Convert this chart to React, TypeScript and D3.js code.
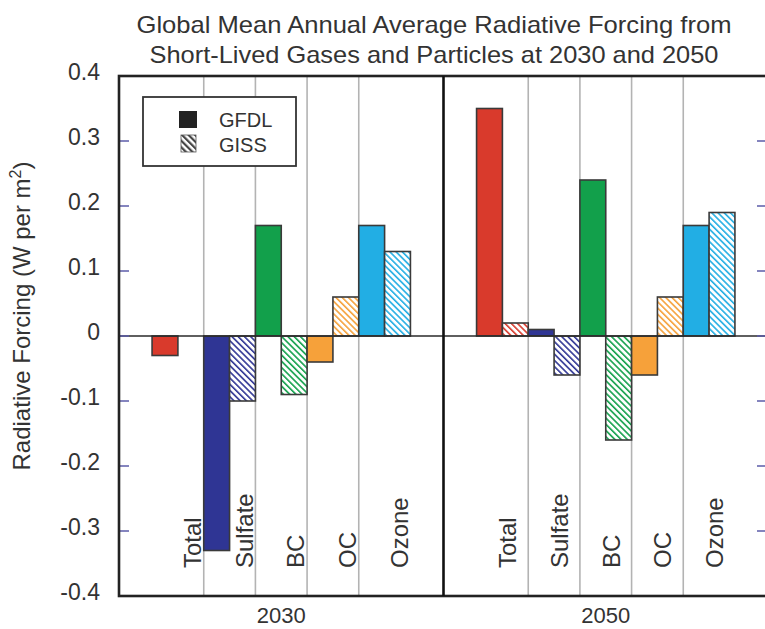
import React from "react";
import * as d3 from "d3";

const categories = ["Total", "Sulfate", "BC", "OC", "Ozone"];
const years = ["2030", "2050"];
const models = ["GFDL", "GISS"];
const gfdl2030: (number | null)[] = [-0.03, -0.33, 0.17, -0.04, 0.17];
const giss2030: (number | null)[] = [null, -0.10, -0.09, 0.06, 0.13];
const gfdl2050: (number | null)[] = [0.35, 0.01, 0.24, -0.06, 0.17];
const giss2050: (number | null)[] = [0.02, -0.06, -0.16, 0.06, 0.19];
const yTicks = [0.4, 0.3, 0.2, 0.1, 0, -0.1, -0.2, -0.3, -0.4];
const yTickLabels = ["0.4", "0.3", "0.2", "0.1", "0", "-0.1", "-0.2", "-0.3", "-0.4"];
const categoryColors = ["#d93a2c", "#2f3594", "#12a04b", "#f6a13a", "#22aee4"];
const titleLines = [
  "Global Mean Annual Average Radiative Forcing from",
  "Short-Lived Gases and Particles at 2030 and 2050",
];

const W = 765;
const H = 629;
const M = { left: 119, right: 768, top: 76, bottom: 596 };
const FONT = "'Liberation Sans', Arial, Helvetica, sans-serif";
const TEXT = "#333";

const seriesByYear: Record<string, (number | null)[][]> = {
  "2030": [gfdl2030, giss2030],
  "2050": [gfdl2050, giss2050],
};
const labelOffset: Record<string, number> = { "2030": 23, "2050": 14 };

export default function App() {
  const xYear = d3.scaleBand<string>().domain(years).range([M.left, M.right]).padding(0);
  const xCat = d3
    .scaleBand<string>()
    .domain(categories)
    .range([0, xYear.bandwidth()])
    .paddingInner(0)
    .paddingOuter(0.64);
  const xModel = d3.scaleBand<string>().domain(models).range([0, xCat.bandwidth()]).padding(0);
  const y = d3.scaleLinear().domain([-0.4, 0.4]).range([M.bottom, M.top]);

  return (
    <svg
      width={W}
      height={H}
      style={{ position: "absolute", left: 0, top: 0, background: "#fff" }}
      fontFamily={FONT}
    >
      <defs>
        {categoryColors.map((c, i) => (
          <pattern
            key={i}
            id={`hatch-${i}`}
            patternUnits="userSpaceOnUse"
            width={4.4}
            height={4.4}
            patternTransform="rotate(-45)"
          >
            <rect width={4.4} height={4.4} fill="#fff" />
            <rect width={1.6} height={4.4} fill={c} />
          </pattern>
        ))}
        <pattern
          id="hatch-legend"
          patternUnits="userSpaceOnUse"
          width={4.6}
          height={4.6}
          patternTransform="rotate(-45)"
        >
          <rect width={4.6} height={4.6} fill="#fff" />
          <rect width={2.2} height={4.6} fill="#444" />
        </pattern>
      </defs>

      {/* Title */}
      {titleLines.map((t, i) => (
        <text
          key={i}
          x={434}
          y={33 + i * 30}
          textAnchor="middle"
          fontSize={24}
          fill={TEXT}
          textLength={i === 0 ? 595 : 569}
          lengthAdjust="spacingAndGlyphs"
        >
          {t}
        </text>
      ))}

      {/* Grey category dividers */}
      {years.map((yr) =>
        categories.slice(1).map((c) => {
          const x = (xYear(yr) ?? 0) + (xCat(c) ?? 0);
          return (
            <line
              key={yr + c}
              x1={x}
              x2={x}
              y1={M.top}
              y2={M.bottom}
              stroke="#b3b3b3"
              strokeWidth={1.6}
            />
          );
        })
      )}

      {/* Bars */}
      {years.map((yr) =>
        categories.map((c, ci) =>
          models.map((m, mi) => {
            const v = seriesByYear[yr][mi][ci];
            if (v === null || v === undefined) return null;
            const x = (xYear(yr) ?? 0) + (xCat(c) ?? 0) + (xModel(m) ?? 0);
            const y0 = y(0);
            const y1 = y(v);
            return (
              <rect
                key={yr + c + m}
                x={x}
                y={Math.min(y0, y1)}
                width={xModel.bandwidth()}
                height={Math.abs(y1 - y0)}
                fill={mi === 0 ? categoryColors[ci] : `url(#hatch-${ci})`}
                stroke="#3a3a3a"
                strokeWidth={1.6}
              />
            );
          })
        )
      )}

      {/* Zero line */}
      <line x1={M.left} x2={M.right} y1={y(0)} y2={y(0)} stroke="#2a2a2a" strokeWidth={1.6} />

      {/* Tick marks (inside, both sides) */}
      {yTicks.slice(1, -1).map((t) => (
        <g key={t}>
          <line x1={M.left} x2={M.left + 10} y1={y(t)} y2={y(t)} stroke="#5b5ba8" strokeWidth={1.5} />
          <line x1={M.right - 11} x2={M.right} y1={y(t)} y2={y(t)} stroke="#5b5ba8" strokeWidth={1.5} />
        </g>
      ))}

      {/* Tick labels */}
      {yTicks.map((t, i) => (
        <text
          key={t}
          x={100}
          y={y(t) - 4}
          dy="0.36em"
          textAnchor="end"
          fontSize={23}
          fill={TEXT}
        >
          {yTickLabels[i]}
        </text>
      ))}

      {/* Frame and middle divider */}
      <rect
        x={M.left}
        y={M.top}
        width={M.right - M.left}
        height={M.bottom - M.top}
        fill="none"
        stroke="#222"
        strokeWidth={2.6}
      />
      <line
        x1={xYear("2050")}
        x2={xYear("2050")}
        y1={M.top}
        y2={M.bottom}
        stroke="#111"
        strokeWidth={2.6}
      />

      {/* Category labels */}
      {years.map((yr) =>
        categories.map((c) => {
          const cx = (xYear(yr) ?? 0) + (xCat(c) ?? 0) + xCat.bandwidth() / 2 + labelOffset[yr];
          return (
            <text
              key={yr + c}
              transform={`translate(${cx},568) rotate(-90)`}
              textAnchor="start"
              fontSize={24}
              fill={TEXT}
            >
              {c}
            </text>
          );
        })
      )}

      {/* Year labels */}
      {years.map((yr) => (
        <text
          key={yr}
          x={(xYear(yr) ?? 0) + xYear.bandwidth() / 2}
          y={623}
          textAnchor="middle"
          fontSize={22}
          fill={TEXT}
        >
          {yr}
        </text>
      ))}

      {/* Y axis title */}
      <text
        transform={`translate(30,316) rotate(-90)`}
        textAnchor="middle"
        fontSize={24}
        fill={TEXT}
      >
        Radiative Forcing (W per m
        <tspan fontSize={16} dy={-9}>2</tspan>
        <tspan dy={9}>)</tspan>
      </text>

      {/* Legend */}
      <rect x={143} y={97} width={153} height={69} fill="#fff" stroke="#333" strokeWidth={1.8} />
      <rect x={179} y={111} width={18} height={17} fill="#222" />
      <rect x={181} y={135} width={15} height={17} fill="url(#hatch-legend)" stroke="#555" strokeWidth={0.8} />
      <text x={219} y={127} fontSize={20} fill={TEXT}>
        {models[0]}
      </text>
      <text x={219} y={152} fontSize={20} fill={TEXT}>
        {models[1]}
      </text>
    </svg>
  );
}
